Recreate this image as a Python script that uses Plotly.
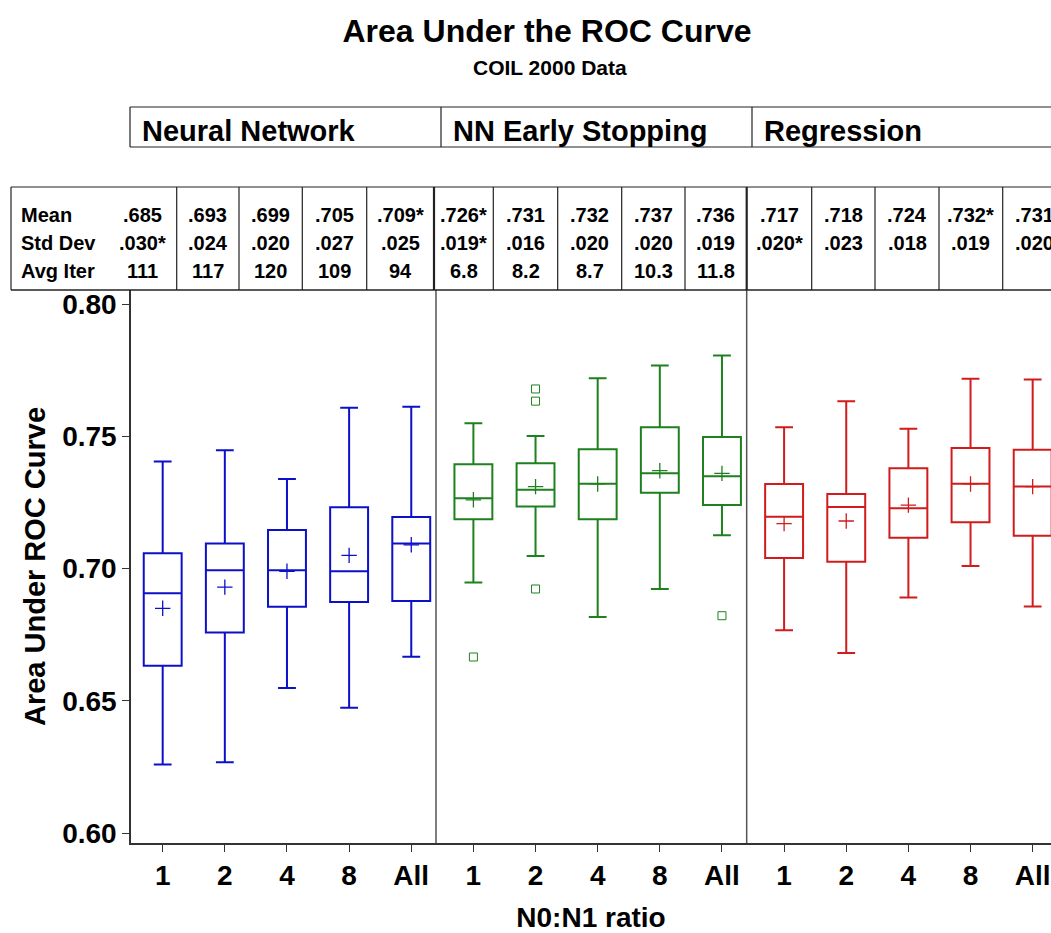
import plotly.graph_objects as go

# ---------------- data ----------------
groups = ["Neural Network", "NN Early Stopping", "Regression"]
ratios = ["1", "2", "4", "8", "All"]
colors = ["#0C10C8", "#1E801E", "#D01C1C"]

nn_upper = [0.7405, 0.7447, 0.7339, 0.7608, 0.7612]
nn_q3 = [0.7058, 0.7095, 0.7146, 0.7232, 0.7195]
nn_median = [0.6907, 0.6994, 0.6994, 0.6990, 0.7095]
nn_q1 = [0.6633, 0.6759, 0.6856, 0.6874, 0.6878]
nn_lower = [0.6260, 0.6268, 0.6549, 0.6474, 0.6667]
nn_mean = [0.685, 0.693, 0.699, 0.705, 0.709]
nn_std = [0.030, 0.024, 0.020, 0.027, 0.025]
nn_iter = ["111", "117", "120", "109", "94"]
nn_outliers = [[], [], [], [], []]

es_upper = [0.7549, 0.7501, 0.7719, 0.7768, 0.7805]
es_q3 = [0.7394, 0.7398, 0.7451, 0.7534, 0.7497]
es_median = [0.7266, 0.7298, 0.7321, 0.7360, 0.7349]
es_q1 = [0.7187, 0.7235, 0.7187, 0.7287, 0.7240]
es_lower = [0.6948, 0.7048, 0.6817, 0.6923, 0.7126]
es_mean = [0.726, 0.731, 0.732, 0.737, 0.736]
es_std = [0.019, 0.016, 0.020, 0.020, 0.019]
es_iter = ["6.8", "8.2", "8.7", "10.3", "11.8"]
es_outliers = [[0.6666], [0.7679, 0.7633, 0.6923], [], [], [0.6822]]

rg_upper = [0.7534, 0.7633, 0.7529, 0.7718, 0.7715]
rg_q3 = [0.7320, 0.7282, 0.7379, 0.7456, 0.7449]
rg_median = [0.7196, 0.7233, 0.7228, 0.7321, 0.7310]
rg_q1 = [0.7040, 0.7026, 0.7117, 0.7175, 0.7124]
rg_lower = [0.6767, 0.6681, 0.6891, 0.7010, 0.6857]
rg_mean = [0.717, 0.718, 0.724, 0.732, 0.731]
rg_std = [0.020, 0.023, 0.018, 0.019, 0.020]
rg_iter = ["", "", "", "", ""]
rg_outliers = [[], [], [], [], []]

# starred (best) entries: index of starred mean / std in each group
mean_star = [4, 0, 3]
std_star = [0, 0, 0]

y_ticks = [0.60, 0.65, 0.70, 0.75, 0.80]

stats = [
    (nn_lower, nn_q1, nn_median, nn_q3, nn_upper, nn_mean, nn_std, nn_iter, nn_outliers),
    (es_lower, es_q1, es_median, es_q3, es_upper, es_mean, es_std, es_iter, es_outliers),
    (rg_lower, rg_q1, rg_median, rg_q3, rg_upper, rg_mean, rg_std, rg_iter, rg_outliers),
]

# ---------------- layout geometry (page pixels) ----------------
W, H = 1051, 933
PL, PR, PT, PB = 131, 1051, 290, 843
FONT = "Liberation Sans, Arial, sans-serif"


def fx(x):
    return (x - PL) / (PR - PL)


def fy(y):
    return (PB - y) / (PB - PT)


fig = go.Figure()

for g, (lo, q1, md, q3, up, mn, sd, it, outl) in enumerate(stats):
    xs = [5 * g + i for i in range(len(ratios))]
    col = colors[g]
    fig.add_trace(go.Box(
        x=xs, q1=q1, median=md, q3=q3, lowerfence=lo, upperfence=up,
        width=0.61, whiskerwidth=0.47, boxpoints=False,
        line=dict(color=col, width=2), fillcolor="rgba(0,0,0,0)",
        showlegend=False, name=groups[g]))
    fig.add_trace(go.Scatter(
        x=xs, y=mn, mode="markers", showlegend=False,
        marker=dict(symbol="cross-thin", size=11, color=col,
                    line=dict(color=col, width=1.3))))
    ox, oy = [], []
    for i, vals in enumerate(outl):
        for v in vals:
            ox.append(xs[i])
            oy.append(v)
    if ox:
        fig.add_trace(go.Scatter(
            x=ox, y=oy, mode="markers", showlegend=False,
            marker=dict(symbol="square-open", size=8, color=col,
                        line=dict(color=col, width=1))))

shapes = []
ann = []
LC = "#222222"

# panel separators inside plot
for sx in [4.398, 9.398]:
    shapes.append(dict(type="line", xref="x", yref="paper", x0=sx, x1=sx, y0=0, y1=1,
                       line=dict(color="#555555", width=1.5)))

# ---------- header row ----------
HT, HB = 107, 147
shapes.append(dict(type="line", xref="paper", yref="paper", x0=fx(130), x1=fx(1060),
                   y0=fy(HT), y1=fy(HT), line=dict(color=LC, width=1.2)))
shapes.append(dict(type="line", xref="paper", yref="paper", x0=fx(130), x1=fx(1060),
                   y0=fy(HB), y1=fy(HB), line=dict(color=LC, width=1.2)))
for hx in [130, 441, 752]:
    shapes.append(dict(type="line", xref="paper", yref="paper", x0=fx(hx), x1=fx(hx),
                       y0=fy(HT), y1=fy(HB), line=dict(color=LC, width=1.2)))
for g, hx in enumerate([140, 451, 762]):
    ann.append(dict(text=groups[g], xref="paper", yref="paper", x=fx(hx), y=fy(131),
                    xanchor="left", yanchor="middle", showarrow=False,
                    font=dict(family=FONT, size=29, color="black", weight="bold")))

# ---------- stats table ----------
TT, TB = 187, 290
TL = 11
div = [176.7, 239, 302.3, 366.7, 434, 493.3, 557.7, 621.7, 685, 746.7, 811.7, 875, 939, 1002.7, 1066]
shapes.append(dict(type="line", xref="paper", yref="paper", x0=fx(TL), x1=fx(1060),
                   y0=fy(TT), y1=fy(TT), line=dict(color=LC, width=1.2)))
shapes.append(dict(type="line", xref="paper", yref="paper", x0=fx(TL), x1=fx(1060),
                   y0=fy(TB), y1=fy(TB), line=dict(color=LC, width=1.5)))
shapes.append(dict(type="line", xref="paper", yref="paper", x0=fx(TL), x1=fx(TL),
                   y0=fy(TT), y1=fy(TB), line=dict(color=LC, width=1.2)))
for k, dx in enumerate(div):
    wdt = 2.2 if k in (4, 9) else 1.2
    shapes.append(dict(type="line", xref="paper", yref="paper", x0=fx(dx), x1=fx(dx),
                       y0=fy(TT), y1=fy(TB), line=dict(color=LC, width=wdt)))

row_y = [215, 243, 271]
row_labels = ["Mean", "Std Dev", "Avg Iter"]
for r, lab in enumerate(row_labels):
    ann.append(dict(text=lab, xref="paper", yref="paper", x=fx(19), y=fy(row_y[r]),
                    xanchor="left", yanchor="middle", showarrow=False,
                    font=dict(family=FONT, size=20, color="black", weight="bold")))

cell_centers = [142] + [(div[k - 1] + div[k]) / 2 for k in range(1, 15)]
for g, (lo, q1, md, q3, up, mn, sd, it, outl) in enumerate(stats):
    for i in range(5):
        k = 5 * g + i
        mtxt = f"{mn[i]:.3f}"[1:] + ("*" if mean_star[g] == i else "")
        stxt = f"{sd[i]:.3f}"[1:] + ("*" if std_star[g] == i else "")
        for r, t in enumerate([mtxt, stxt, it[i]]):
            if not t:
                continue
            ann.append(dict(text=t, xref="paper", yref="paper", x=fx(cell_centers[k]),
                            y=fy(row_y[r]), xanchor="center", yanchor="middle",
                            showarrow=False,
                            font=dict(family=FONT, size=20, color="black", weight="bold")))

# subtitle
ann.append(dict(text="COIL 2000 Data", xref="paper", yref="paper", x=fx(550), y=fy(68),
                xanchor="center", yanchor="middle", showarrow=False,
                font=dict(family=FONT, size=21, color="black", weight="bold")))

fig.update_layout(
    width=W, height=H,
    margin=dict(l=PL, r=W - PR, t=PT, b=H - PB),
    paper_bgcolor="white", plot_bgcolor="white",
    boxmode="overlay",
    title=dict(text="Area Under the ROC Curve", x=547 / W, xanchor="center",
               y=1 - 31 / H, yanchor="middle",
               font=dict(family=FONT, size=32, color="black", weight="bold")),
    shapes=shapes, annotations=ann,
    xaxis=dict(range=[-0.510, 14.295], tickmode="array",
               tickvals=list(range(15)), ticktext=ratios * 3,
               showgrid=False, zeroline=False, showline=True,
               linecolor="#333333", linewidth=1.5,
               ticks="outside", ticklen=7, tickcolor="#333333", tickwidth=1.2,
               tickfont=dict(family=FONT, size=28, color="black", weight="bold"),
               title=dict(text="N0:N1 ratio", standoff=17,
                          font=dict(family=FONT, size=28, color="black", weight="bold"))),
    yaxis=dict(range=[0.5963, 0.8053], tickmode="array", tickvals=y_ticks,
               tickformat=".2f",
               showgrid=False, zeroline=False, showline=True,
               linecolor="#333333", linewidth=1.5,
               ticks="outside", ticklen=7, tickcolor="#333333", tickwidth=1.2,
               tickfont=dict(family=FONT, size=28, color="black", weight="bold"),
               title=dict(text="Area Under ROC Curve", standoff=8,
                          font=dict(family=FONT, size=29, color="black", weight="bold"))),
)

fig.write_html(
    "out.html",
    config={"displayModeBar": False},
    post_script="document.body.style.margin='0';document.body.style.overflow='hidden';",
)
